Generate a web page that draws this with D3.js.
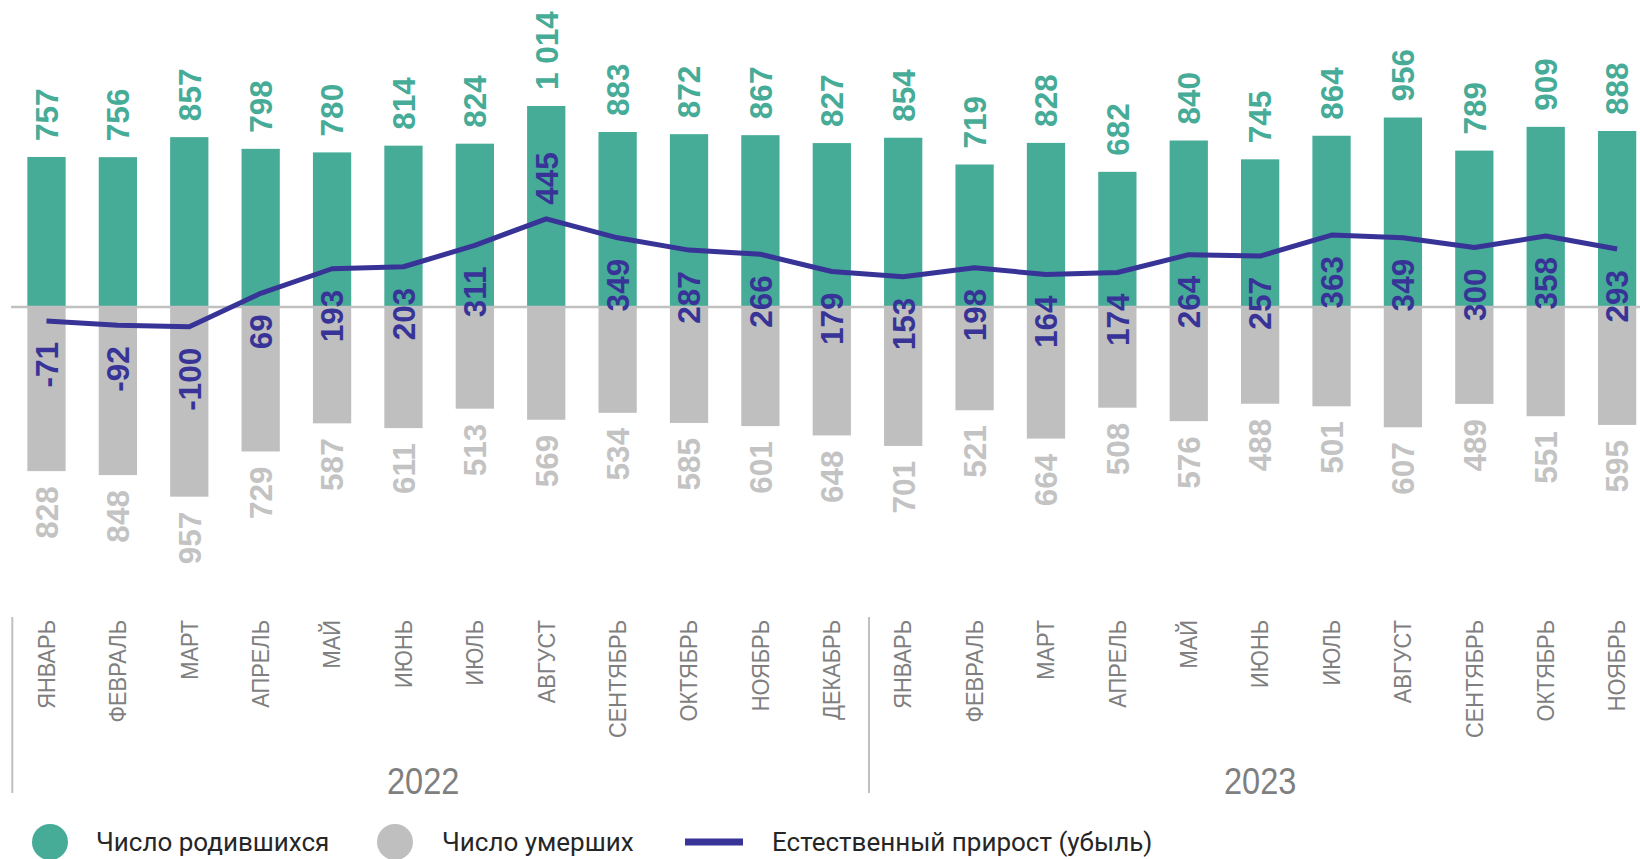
<!DOCTYPE html>
<html>
<head>
<meta charset="utf-8">
<script src="https://cdn.jsdelivr.net/npm/d3@7"></script>
<style>
  body { margin: 0; background: #fff; }
  text { font-family: "Liberation Sans", Arial, sans-serif; }
</style>
</head>
<body>
<div id="cont"></div>
<script>
// Data
var months = ["ЯНВАРЬ","ФЕВРАЛЬ","МАРТ","АПРЕЛЬ","МАЙ","ИЮНЬ","ИЮЛЬ","АВГУСТ","СЕНТЯБРЬ","ОКТЯБРЬ","НОЯБРЬ","ДЕКАБРЬ",
              "ЯНВАРЬ","ФЕВРАЛЬ","МАРТ","АПРЕЛЬ","МАЙ","ИЮНЬ","ИЮЛЬ","АВГУСТ","СЕНТЯБРЬ","ОКТЯБРЬ","НОЯБРЬ"];
var years = ["2022", "2023"];
var yearCounts = [12, 11];
var births = [757, 756, 857, 798, 780, 814, 824, 1014, 883, 872, 867, 827,
              854, 719, 828, 682, 840, 745, 864, 956, 789, 909, 888];
var deaths = [828, 848, 957, 729, 587, 611, 513, 569, 534, 585, 601, 648,
              701, 521, 664, 508, 576, 488, 501, 607, 489, 551, 595];
var natural = [-71, -92, -100, 69, 193, 203, 311, 445, 349, 287, 266, 179,
               153, 198, 164, 174, 264, 257, 363, 349, 300, 358, 293];
var legendItems = ["Число родившихся", "Число умерших", "Естественный прирост (убыль)"];

// Colours
var green = "#46ab97";
var grey = "#bfbfbf";
var blue = "#373397";

var W = 1640, H = 859;

var svg = d3.select("#cont").append("svg")
    .attr("width", W)
    .attr("height", H);

var x = d3.scaleBand()
    .domain(d3.range(months.length))
    .range([10.8, 1652.8])
    .paddingInner(0.464)
    .paddingOuter(0.232);

var y = d3.scaleLinear()
    .domain([0, 1000])
    .range([307, 108.8]);

var cx = function(i) { return x(i) + x.bandwidth() / 2; };

var loc = d3.formatLocale({decimal: ",", thousands: " ", grouping: [3], currency: ["", ""], minus: "-"});
var fmt = loc.format(",d");

// bars
svg.append("g").selectAll("rect.birth")
    .data(births)
  .join("rect")
    .attr("x", function(d, i) { return x(i); })
    .attr("y", function(d) { return y(d); })
    .attr("width", x.bandwidth())
    .attr("height", function(d) { return y(0) - y(d); })
    .attr("fill", green);

svg.append("g").selectAll("rect.death")
    .data(deaths)
  .join("rect")
    .attr("x", function(d, i) { return x(i); })
    .attr("y", y(0))
    .attr("width", x.bandwidth())
    .attr("height", function(d) { return y(-d) - y(0); })
    .attr("fill", grey);

// zero line
svg.append("line")
    .attr("x1", 11).attr("x2", W)
    .attr("y1", y(0)).attr("y2", y(0))
    .attr("stroke", "#c0c0c0")
    .attr("stroke-width", 2.5);

// natural increase line
var line = d3.line()
    .x(function(d, i) { return cx(i); })
    .y(function(d) { return y(d); });

svg.append("path")
    .datum(natural)
    .attr("d", line)
    .attr("fill", "none")
    .attr("stroke", blue)
    .attr("stroke-width", 5)
    .attr("stroke-linejoin", "round");

// value labels
var numFont = function(sel, col) {
    sel.attr("font-size", 31.5)
       .attr("font-weight", "bold")
       .attr("fill", col)
       .attr("dy", "0.36em");
};

svg.append("g").selectAll("text")
    .data(births)
  .join("text")
    .attr("transform", function(d, i) { return "translate(" + cx(i) + "," + (y(d) - 16) + ") rotate(-90)"; })
    .attr("text-anchor", "start")
    .text(function(d) { return fmt(d); })
    .call(numFont, green);

svg.append("g").selectAll("text")
    .data(deaths)
  .join("text")
    .attr("transform", function(d, i) { return "translate(" + cx(i) + "," + (y(-d) + 15) + ") rotate(-90)"; })
    .attr("text-anchor", "end")
    .text(function(d) { return fmt(d); })
    .call(numFont, "#c3c3c3");

var natMax = d3.max(natural);
svg.append("g").selectAll("text")
    .data(natural)
  .join("text")
    .attr("transform", function(d, i) {
        var yy = d === natMax ? y(d) - 14 : y(d) + 21;
        return "translate(" + cx(i) + "," + yy + ") rotate(-90)";
    })
    .attr("text-anchor", function(d) { return d === natMax ? "start" : "end"; })
    .text(function(d) { return fmt(d); })
    .call(numFont, blue);

// month axis
svg.append("g").selectAll("text")
    .data(months)
  .join("text")
    .attr("transform", function(d, i) { return "translate(" + cx(i) + ",620) rotate(-90) scale(0.95,1)"; })
    .attr("text-anchor", "end")
    .attr("dy", "0.36em")
    .attr("font-size", 23)
    .attr("fill", "#7f7f7f")
    .text(function(d) { return d; });

// year groups
var starts = [0];
yearCounts.forEach(function(c, k) { starts.push(starts[k] + c); });

svg.append("g").selectAll("line")
    .data(starts.slice(0, -1))
  .join("line")
    .attr("x1", function(s) { return cx(s) - x.step() / 2 + 1.5; })
    .attr("x2", function(s) { return cx(s) - x.step() / 2 + 1.5; })
    .attr("y1", 617).attr("y2", 793)
    .attr("stroke", "#c0c0c0")
    .attr("stroke-width", 2);

svg.append("g").selectAll("text")
    .data(years)
  .join("text")
    .attr("transform", function(d, k) {
        // the first year label sits a little left of its group centre in the original
        var mid = (cx(starts[k]) + cx(starts[k + 1] - 1)) / 2 - (k === 0 ? 16 : 0);
        return "translate(" + mid + ",794) scale(0.88,1)";
    })
    .attr("text-anchor", "middle")
    .attr("font-size", 37)
    .attr("fill", "#7f7f7f")
    .text(function(d) { return d; });

// legend
var lg = svg.append("g").attr("transform", "translate(0,842)");
var legX = [50, 395, 714];
var legTextX = [96, 442, 772];

lg.append("circle").attr("cx", legX[0]).attr("cy", 0).attr("r", 18).attr("fill", green);
lg.append("circle").attr("cx", legX[1]).attr("cy", 0).attr("r", 18).attr("fill", grey);
lg.append("line")
    .attr("x1", legX[2] - 29).attr("x2", legX[2] + 29)
    .attr("y1", 0).attr("y2", 0)
    .attr("stroke", blue).attr("stroke-width", 7);

lg.selectAll("text.leg")
    .data(legendItems)
  .join("text")
    .attr("class", "leg")
    .attr("x", function(d, i) { return legTextX[i]; })
    .attr("y", 0)
    .attr("dy", "0.36em")
    .attr("font-size", 26)
    .attr("fill", "#262626")
    .style("font-family", "Roboto, 'Liberation Sans', sans-serif")
    .text(function(d) { return d; });
</script>
</body>
</html>
